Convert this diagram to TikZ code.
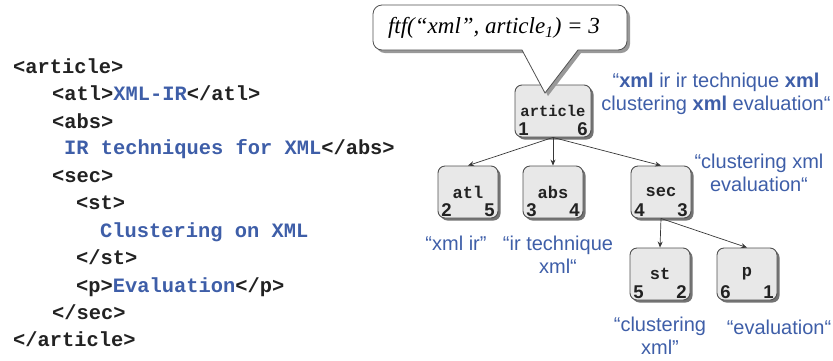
\documentclass[tikz,border=0pt]{standalone}
\usepackage{fontspec}
\setmainfont{Liberation Sans}
\newfontfamily\codefont{Liberation Mono}
\newfontfamily\calloutfont{Liberation Serif}
\usetikzlibrary{shadows,arrows.meta}
\definecolor{kwblue}{HTML}{3E5EA8}
\definecolor{codeblack}{HTML}{222222}
\definecolor{boxfill}{HTML}{E8E8E8}
\definecolor{boxline}{HTML}{505050}
\tikzset{
  code/.style={anchor=base west, inner sep=0pt, text=codeblack, font=\codefont\bfseries\fontsize{20.4}{24}\selectfont},
  tbox/.style={draw=boxline, line width=0.9pt, fill=boxfill, rounded corners=7pt, minimum height=52pt, inner sep=0pt,
    drop shadow={shadow xshift=2.5pt, shadow yshift=-2.5pt, fill=black!55, opacity=1}},
  tag/.style={inner sep=0pt, text=codeblack, font=\codefont\bfseries\fontsize{17}{20}\selectfont},
  num/.style={inner sep=0pt, text=codeblack, font=\bfseries\fontsize{18.5}{21}\selectfont},
  arr/.style={draw=codeblack!90, line width=0.7pt, -{Stealth[length=6pt,width=5pt]}},
  blue label/.style={inner sep=0pt, align=center, text=kwblue, font=\fontsize{20}{23}\selectfont},
}
\newcommand{\tnode}[7]{%
  \node[tbox, minimum width=#4] (#1) at (#2,#3) {};
  \node[tag] (#1-t) at (#1.center) {#5};
  \node[num] (#1-l) at ([xshift=9pt,yshift=8.5pt]#1.south west) {#6};
  \node[num] (#1-r) at ([xshift=-9pt,yshift=8.5pt]#1.south east) {#7};
}
\begin{document}
\begin{tikzpicture}[x=1pt,y=-1pt]
\useasboundingbox (0,0) rectangle (833,360);

% code listing
\node[code] (c1) at (13,73.5) {<article>};
\node[code] (c2) at (52,100.5) {<atl>\textcolor{kwblue}{XML-IR}</atl>};
\node[code] (c3) at (52,128.5) {<abs>};
\node[code] (c4) at (64,154.5) {\textcolor{kwblue}{IR techniques for XML}</abs>};
\node[code] (c5) at (52,182.5) {<sec>};
\node[code] (c6) at (76,209.5) {<st>};
\node[code] (c7) at (100,237.5) {\textcolor{kwblue}{Clustering on XML}};
\node[code] (c8) at (76,264.5) {</st>};
\node[code] (c9) at (76,292.5) {<p>\textcolor{kwblue}{Evaluation}</p>};
\node[code] (c10) at (52,319.5) {</sec>};
\node[code] (c11) at (13,346.5) {</article>};

% tree
\tnode{article}{553}{111}{76pt}{\fontsize{15.5}{18}\selectfont article}{1}{6}
\tnode{atl}{468}{192}{60pt}{atl}{2}{5}
\tnode{abs}{553}{192}{60pt}{abs}{3}{4}
\tnode{sec}{661}{192}{60pt}{sec}{4}{3}
\tnode{st}{660}{274}{60pt}{st}{5}{2}
\tnode{p}{747}{274}{60pt}{p}{6}{1}

\draw[arr] (article.south) -- (atl.north);
\draw[arr] (article.south) -- (abs.north);
\draw[arr] (article.south) -- (sec.north);
\draw[arr] (sec.south) -- (st.north);
\draw[arr] (sec.south) -- (p.north);

% callout
\begin{scope}[shift={(3,3)}]
\fill[black!40] (522,50) [rounded corners=9pt] -- (373,50) -- (373,5) -- (627,5) -- (627,50) [sharp corners] -- (578,50) -- (545,93) -- cycle;
\end{scope}
\filldraw[fill=white, draw=boxline, line width=0.8pt] (522,50) [rounded corners=9pt] -- (373,50) -- (373,5) -- (627,5) -- (627,50) [sharp corners] -- (578,50) -- (545,93) -- cycle;
\node[inner sep=0pt, font=\calloutfont\itshape\fontsize{23}{26}\selectfont] (ftf) at (494,28) {ftf(“xml”, article\textsubscript{1}) = 3};

% labels
\node[blue label] (la) at (716,94) {“\textbf{xml} ir ir technique \textbf{xml}\\clustering \textbf{xml} evaluation“};
\node[blue label] (lsec) at (759,173) {“clustering xml\\evaluation“};
\node[blue label] (latl) at (456,243) {“xml ir”};
\node[blue label] (labs) at (558,255) {“ir technique\\xml“};
\node[blue label] (lst) at (660,336) {“clustering\\xml”};
\node[blue label] (lp) at (779,327) {“evaluation“};
\end{tikzpicture}
\end{document}
